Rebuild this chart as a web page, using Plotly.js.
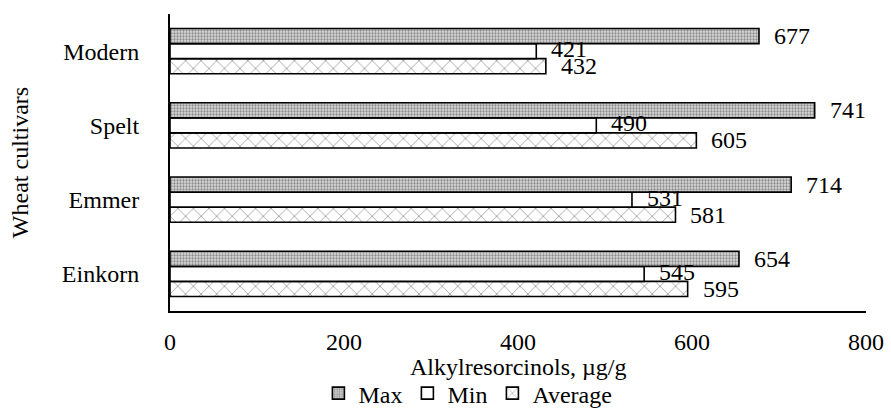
<!DOCTYPE html>
<html>
<head>
<meta charset="utf-8">
<script src="https://cdn.plot.ly/plotly-3.0.1.min.js"></script>
<style>
html,body{margin:0;padding:0;background:#fff;}
#chart text{font-family:'Liberation Serif','Times New Roman',serif !important;}
</style>
</head>
<body>
<div id="chart" style="width:891px;height:410px;"></div>
<script>
const cultivars = ['Einkorn', 'Emmer', 'Spelt', 'Modern'];
const maxValues = [654, 714, 741, 677];
const minValues = [545, 531, 490, 421];
const avgValues = [595, 581, 605, 432];
const xTicks = [0, 200, 400, 600, 800];
const xTitle = 'Alkylresorcinols, µg/g';
const yTitle = 'Wheat cultivars';

const FONT = "'Liberation Serif', 'Times New Roman', serif";
const FS = 24;
const line = {color: '#000', width: 1.6};

const traces = [
  {type: 'bar', orientation: 'h', name: 'Average', x: avgValues, y: cultivars,
   marker: {color: '#fff', line: line,
            pattern: {shape: 'x', fgcolor: '#a0a0a0', bgcolor: '#ffffff', size: 11, solidity: 0.15}}},
  {type: 'bar', orientation: 'h', name: 'Min', x: minValues, y: cultivars,
   marker: {color: '#fff', line: line}},
  {type: 'bar', orientation: 'h', name: 'Max', x: maxValues, y: cultivars,
   marker: {color: '#c8c8c8', line: line,
            pattern: {shape: '.', fgcolor: '#8a8a8a', bgcolor: '#dadada', size: 3, solidity: 0.45}}}
];

// value labels, one per bar, offset to the bar's slot in the group
const series = [[avgValues, -15], [minValues, 2], [maxValues, 15]];
const annotations = [];
series.forEach(([vals, dy]) => {
  vals.forEach((v, i) => {
    annotations.push({x: v, y: cultivars[i], xref: 'x', yref: 'y', text: String(v),
      showarrow: false, xanchor: 'left', yanchor: 'middle', xshift: 13, yshift: dy,
      font: {family: FONT, size: FS, color: '#000'}});
  });
});
annotations.push({x: 0.5, y: -0.19, xref: 'paper', yref: 'paper', text: xTitle,
  showarrow: false, xanchor: 'center', yanchor: 'middle',
  font: {family: FONT, size: FS, color: '#000'}});

const layout = {
  width: 891, height: 410,
  margin: {l: 170, r: 25, t: 14, b: 99, autoexpand: false},
  paper_bgcolor: '#fff', plot_bgcolor: '#fff',
  font: {family: FONT, size: FS, color: '#000'},
  barmode: 'group', bargap: 0.39, bargroupgap: 0,
  showlegend: true,
  legend: {orientation: 'h', traceorder: 'reversed', x: 0.428, xanchor: 'center',
           y: -0.278, yanchor: 'middle', font: {family: FONT, size: 24},
           itemwidth: 30, bgcolor: 'rgba(0,0,0,0)'},
  xaxis: {range: [0, 800], tickvals: xTicks, ticktext: xTicks.map(String),
          showgrid: false, zeroline: false, showline: true, linecolor: '#000', linewidth: 2,
          ticks: '', ticklabelstandoff: 8, tickfont: {family: FONT, size: FS}, fixedrange: true},
  yaxis: {type: 'category', categoryorder: 'array', categoryarray: cultivars,
          showgrid: false, zeroline: false, showline: true, linecolor: '#000', linewidth: 2,
          ticks: '', ticklabelstandoff: 24, tickfont: {family: FONT, size: FS},
          title: {text: yTitle, font: {family: FONT, size: FS}, standoff: 26},
          automargin: true},
  annotations: annotations
};

Plotly.newPlot('chart', traces, layout, {staticPlot: true, displayModeBar: false});
</script>
</body>
</html>
